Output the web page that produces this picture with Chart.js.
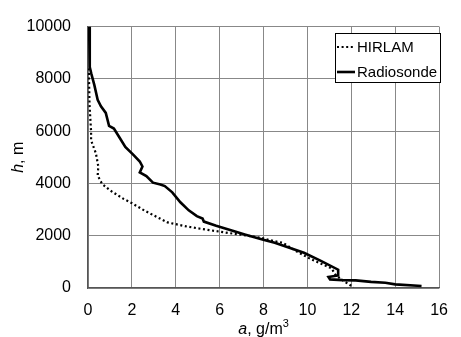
<!DOCTYPE html>
<html>
<head>
<meta charset="utf-8">
<script src="https://cdn.jsdelivr.net/npm/chart.js@4"></script>
<style>
  html, body { margin: 0; padding: 0; background: #fff; }
  #wrap { width: 461px; height: 337px; }
</style>
</head>
<body>
<div id="wrap"><canvas id="chart" width="461" height="337"></canvas></div>
<script>
// absolute humidity a (g/m3) vs height h (m)
const hirlamA = [0, 0.04, 0.07, 0.14, 0.14, 0.36, 0.47, 0.44, 0.6, 0.66, 1.03, 1.62, 1.99, 2.6, 3.62, 4.51, 5.4, 6.44, 7.18, 7.92, 8.44, 8.88, 9.47, 10.14, 11.1, 11.3, 11.7, 12.1];
const hirlamH = [8400, 8250, 7000, 6000, 5650, 5150, 4650, 4300, 4050, 3970, 3720, 3410, 3250, 2950, 2510, 2350, 2230, 2100, 2015, 1915, 1800, 1730, 1420, 1110, 750, 480, 240, 30];

const radioA = [0.05, 0.08, 0.15, 0.29, 0.44, 0.59, 0.81, 0.96, 1.18, 1.47, 1.7, 2.07, 2.36, 2.48, 2.36, 2.66, 2.96, 3.3, 3.5, 3.84, 4.21, 4.59, 4.96, 5.22, 5.28, 5.84, 6.59, 7.18, 7.99, 8.51, 9.84, 10.59, 11.4, 11.4, 10.96, 11.03, 11.6, 12.2, 12.9, 13.55, 14, 15.2];
const radioH = [10000, 8450, 8200, 7760, 7200, 6950, 6700, 6200, 6100, 5710, 5400, 5090, 4840, 4650, 4420, 4280, 4030, 3960, 3900, 3660, 3280, 2970, 2750, 2660, 2540, 2380, 2190, 2040, 1850, 1730, 1350, 1045, 700, 480, 420, 330, 300, 290, 235, 200, 140, 75];

const xTicks = [0, 2, 4, 6, 8, 10, 12, 14, 16];
const yTicks = [0, 2000, 4000, 6000, 8000, 10000];
const seriesNames = ['HIRLAM', 'Radiosonde'];

const FONT = "'Liberation Sans', Arial, sans-serif";

const toPoints = (xs, ys) => xs.map((x, i) => ({ x, y: ys[i] }));

// axis titles with italic symbol + custom boxed legend
const decorations = {
  id: 'decorations',
  afterDraw(chart) {
    const ctx = chart.ctx;
    const area = chart.chartArea;
    ctx.save();
    ctx.fillStyle = '#000';
    ctx.textBaseline = 'alphabetic';

    // x title: "a, g/m3"
    const italic = 'italic 16px ' + FONT, normal = '16px ' + FONT, sup = '11px ' + FONT;
    ctx.font = italic; const wa = ctx.measureText('a').width;
    ctx.font = normal; const wb = ctx.measureText(', g/m').width;
    ctx.font = sup; const wc = ctx.measureText('3').width;
    let x = (area.left + area.right) / 2 - (wa + wb + wc) / 2;
    const by = 334;
    ctx.textAlign = 'left';
    ctx.font = italic; ctx.fillText('a', x, by); x += wa;
    ctx.font = normal; ctx.fillText(', g/m', x, by); x += wb;
    ctx.font = sup; ctx.fillText('3', x, by - 7);

    // y title: "h, m"
    ctx.save();
    ctx.translate(23, (area.top + area.bottom) / 2);
    ctx.rotate(-Math.PI / 2);
    ctx.font = italic; const wh = ctx.measureText('h').width;
    ctx.font = normal; const wm = ctx.measureText(', m').width;
    let t = -(wh + wm) / 2;
    ctx.font = italic; ctx.fillText('h', t, 0); t += wh;
    ctx.font = normal; ctx.fillText(', m', t, 0);
    ctx.restore();

    // legend box
    const lx = 335.5, ly = 33.5, lw = 105, lh = 49;
    ctx.fillStyle = '#fff';
    ctx.fillRect(lx, ly, lw, lh);
    ctx.strokeStyle = '#000';
    ctx.lineWidth = 1;
    ctx.strokeRect(lx, ly, lw, lh);

    const rows = [47, 72];
    chart.data.datasets.forEach((ds, i) => {
      ctx.beginPath();
      ctx.strokeStyle = ds.borderColor;
      ctx.lineWidth = ds.borderWidth;
      ctx.setLineDash(ds.borderDash || []);
      ctx.moveTo(337, rows[i]);
      ctx.lineTo(355, rows[i]);
      ctx.stroke();
      ctx.setLineDash([]);
      ctx.fillStyle = '#000';
      ctx.font = '15px ' + FONT;
      ctx.textBaseline = 'middle';
      ctx.fillText(ds.label, 357, rows[i] + 1);
    });
    ctx.restore();
  }
};

new Chart(document.getElementById('chart').getContext('2d'), {
  type: 'scatter',
  data: {
    datasets: [
      {
        label: seriesNames[0],
        data: toPoints(hirlamA, hirlamH),
        showLine: true,
        borderColor: '#000',
        borderWidth: 2.2,
        borderDash: [2, 2.6],
        pointRadius: 0,
        fill: false
      },
      {
        label: seriesNames[1],
        data: toPoints(radioA, radioH),
        showLine: true,
        borderColor: '#000',
        borderWidth: 2.6,
        pointRadius: 0,
        fill: false
      }
    ]
  },
  options: {
    responsive: false,
    animation: false,
    layout: { padding: { left: 0, right: 13, top: 20, bottom: 0 } },
    plugins: { legend: { display: false }, tooltip: { enabled: false } },
    scales: {
      x: {
        type: 'linear', min: 0, max: 16,
        afterFit: (s) => { s.height = 49; },
        afterBuildTicks: (s) => { s.ticks = xTicks.map(v => ({ value: v })); },
        ticks: { color: '#000', padding: 13, font: { family: FONT, size: 16 }, callback: (v) => String(v) },
        grid: { color: '#888', lineWidth: 1, drawTicks: false },
        border: { color: '#555', width: 1.3 }
      },
      y: {
        type: 'linear', min: 0, max: 10000,
        afterFit: (s) => { s.width = 88; },
        afterBuildTicks: (s) => { s.ticks = yTicks.map(v => ({ value: v })); },
        ticks: { color: '#000', padding: 17, font: { family: FONT, size: 16 }, callback: (v) => String(v) },
        grid: { color: '#888', lineWidth: 1, drawTicks: false },
        border: { color: '#555', width: 1.3 }
      }
    }
  },
  plugins: [decorations]
});
</script>
</body>
</html>
